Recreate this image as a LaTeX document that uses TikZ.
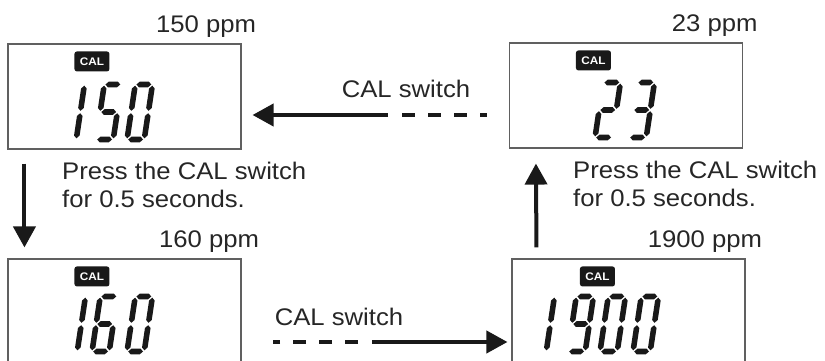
\documentclass[tikz,border=0pt]{standalone}
\usepackage{fontspec}
\setmainfont{Liberation Sans}[FakeStretch=1.07]
\usetikzlibrary{arrows.meta,positioning,calc}
\tikzset{
  lcdbox/.style={draw=gray!75!black,line width=1.1pt,minimum width=233pt,minimum height=105pt,inner sep=0pt},
  calbadge/.style={fill=black!90,rounded corners=2.5pt,minimum width=35pt,minimum height=20pt,inner sep=0pt,text=white,font=\fontsize{11}{11}\selectfont\bfseries},
  ppmlbl/.style={anchor=base east,text=black!85,font=\fontsize{24}{28}\selectfont},
  notelbl/.style={anchor=base west,align=left,inner sep=0pt,text=black!85,font=\fontsize{24}{28}\selectfont},
  swlbl/.style={anchor=base,text=black!85,font=\fontsize{24}{28}\selectfont},
  arr/.style={-{Triangle[length=21pt,width=22pt]},line width=4pt,black!90},
  dashln/.style={line width=4pt,dash pattern=on 13pt off 13pt,black!90},
  lcdseg/.style={fill=black!90},
  % segments of one cell, pointed ends
  seg a/.style={insert path={(4,-56.5)--(6.8,-59.3)--(16,-59.3)--(18.8,-56.5)--(16,-53.7)--(6.8,-53.7)--cycle}},
  seg b/.style={insert path={(20,-55.3)--(22.8,-52.5)--(22.8,-33)--(20,-30.2)--(17.2,-33)--(17.2,-52.5)--cycle}},
  seg c/.style={insert path={(20,-27.8)--(22.8,-25)--(22.8,-5.5)--(20,-2.7)--(17.2,-5.5)--(17.2,-25)--cycle}},
  seg d/.style={insert path={(4,-1.5)--(6.8,-4.3)--(16,-4.3)--(18.8,-1.5)--(16,1.3)--(6.8,1.3)--cycle}},
  seg e/.style={insert path={(2.8,-27.8)--(5.6,-25)--(5.6,-5.5)--(2.8,-2.7)--(0,-5.5)--(0,-25)--cycle}},
  seg f/.style={insert path={(2.8,-55.3)--(5.6,-52.5)--(5.6,-33)--(2.8,-30.2)--(0,-33)--(0,-52.5)--cycle}},
  seg g/.style={insert path={(4,-29)--(6.8,-31.8)--(16,-31.8)--(18.8,-29)--(16,-26.2)--(6.8,-26.2)--cycle}}
}
% one slanted 7-segment digit, (x,y) = bottom left of the cell
\newcommand{\lcddigit}[3]{%
  \begin{scope}[shift={(#1,#2)},xslant=0.15]
    \foreach \s in {#3} {\fill[lcdseg,seg \s];}
  \end{scope}}

\begin{document}
\begin{tikzpicture}[x=1pt,y=-1pt]
  \useasboundingbox (0,0) rectangle (825,361);
  \clip (0,0) rectangle (825,361);

  % displays
  \node[lcdbox] (d150) at (124.5,96.5) {};
  \node[lcdbox] (d23) at (626,95.5) {};
  \node[lcdbox] (d160) at (124.5,311.5) {};
  \node[lcdbox] (d1900) at (628.5,311.5) {};

  \node[calbadge] (cal150) at ([shift={(84.5,18)}]d150.north west) {CAL};
  \node[calbadge] (cal23) at ([shift={(84.5,18)}]d23.north west) {CAL};
  \node[calbadge] (cal160) at ([shift={(84.5,18)}]d160.north west) {CAL};
  \node[calbadge] (cal1900) at ([shift={(86,18)}]d1900.north west) {CAL};

  \node[ppmlbl] (ppm150) at ([shift={(18,-11)}]d150.north east) {150 ppm};
  \node[ppmlbl] (ppm23) at ([shift={(18,-11)}]d23.north east) {23 ppm};
  \node[ppmlbl] (ppm160) at ([shift={(21,-11)}]d160.north east) {160 ppm};
  \node[ppmlbl] (ppm1900) at ([shift={(20,-11)}]d1900.north east) {1900 ppm};

  % digits
  \lcddigit{56}{141}{b,c}
  \lcddigit{93}{141}{a,f,g,c,d}
  \lcddigit{124}{141}{a,b,c,d,e,f}
  \lcddigit{592}{139}{a,b,g,e,d}
  \lcddigit{626}{139}{a,b,g,c,d}
  \lcddigit{57}{353}{b,c}
  \lcddigit{89}{353}{a,f,g,e,d,c}
  \lcddigit{124}{353}{a,b,c,d,e,f}
  \lcddigit{526}{353}{b,c}
  \lcddigit{565}{353}{a,b,c,d,f,g}
  \lcddigit{597}{353}{a,b,c,d,e,f}
  \lcddigit{630}{353}{a,b,c,d,e,f}

  % notes
  \node[notelbl] (noteL) at (62,207) {Press the CAL switch\\for 0.5 seconds.};
  \node[notelbl] (noteR) at (573,206) {Press the CAL switch\\for 0.5 seconds.};

  \draw[arr] ([shift={(17,14)}]d150.south west) -- ([shift={(17,-11)}]d160.north west);
  \draw[arr] ([shift={(25,-11)}]d1900.north west) -- ([shift={(27,15)}]d23.south west);

  % CAL switch arrows
  \coordinate (swTop) at (402,115);
  \draw[dashln] (swTop) -- ([shift={(-22,19.5)}]d23.west);
  \draw[arr] ([xshift=-14]swTop) -- ([shift={(11,18.5)}]d150.east);
  \node[swlbl] (swTopLbl) at (406,97) {CAL switch};

  \coordinate (swBot) at (358,342);
  \draw[dashln] (swBot) -- ([shift={(31,30.5)}]d160.east);
  \draw[arr] ([xshift=14]swBot) -- ([shift={(-4,30.5)}]d1900.west);
  \node[swlbl] (swBotLbl) at (339,325) {CAL switch};
\end{tikzpicture}
\end{document}
